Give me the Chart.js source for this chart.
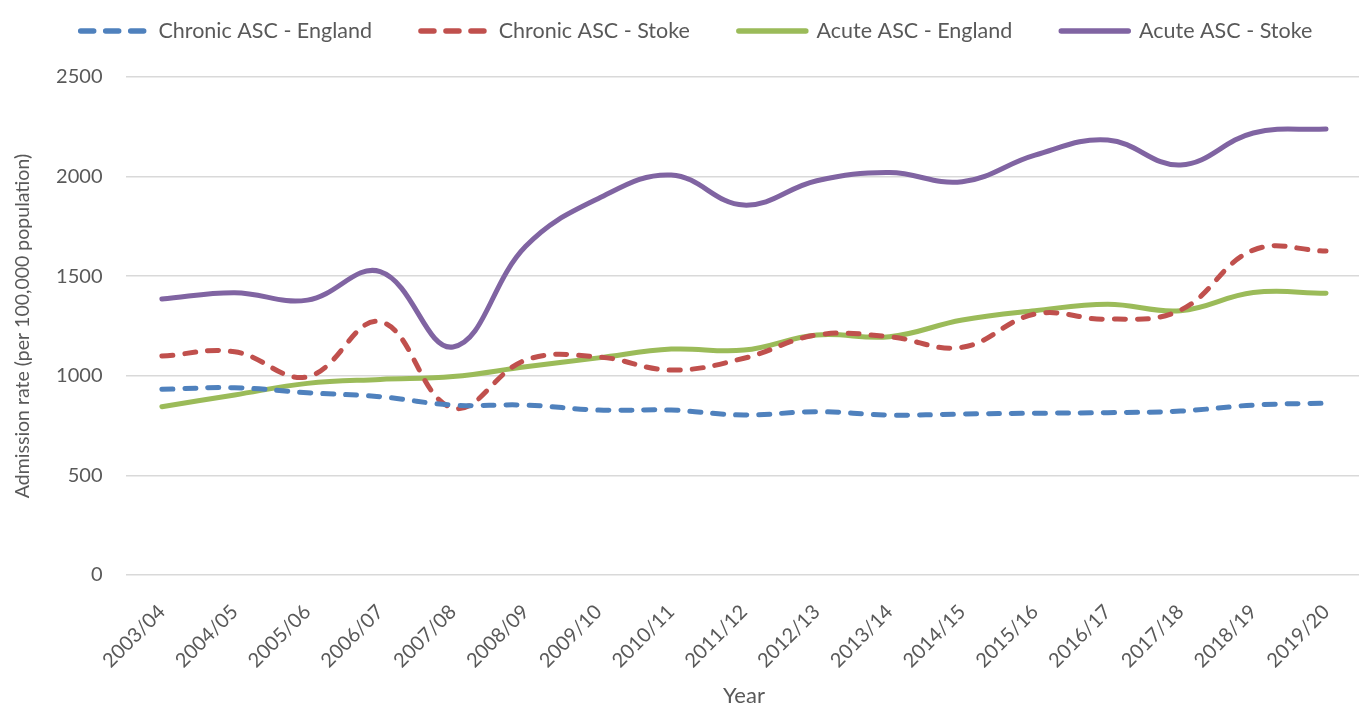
<!DOCTYPE html>
<html>
<head>
<meta charset="utf-8">
<script src="https://cdn.jsdelivr.net/npm/chart.js@4/dist/chart.umd.min.js"></script>
<style>
html, body { margin: 0; padding: 0; overflow: hidden; background: #ffffff; }
#wrap { width: 1368px; height: 707px; }
</style>
</head>
<body>
<div id="wrap"><canvas id="c" width="1368" height="707"></canvas></div>
<script>
const categories = ['2003/04','2004/05','2005/06','2006/07','2007/08','2008/09','2009/10','2010/11','2011/12','2012/13','2013/14','2014/15','2015/16','2016/17','2017/18','2018/19','2019/20'];
const chronicEngland = [932, 940, 915, 895, 853, 853, 828, 828, 803, 820, 803, 808, 812, 815, 823, 853, 863];
const chronicStoke   = [1099, 1121, 995, 1272, 838, 1079, 1095, 1029, 1088, 1205, 1196, 1143, 1310, 1284, 1330, 1631, 1626];
const acuteEngland   = [845, 904, 962, 982, 996, 1045, 1090, 1134, 1129, 1205, 1196, 1280, 1327, 1359, 1327, 1418, 1414];
const acuteStoke     = [1385, 1417, 1380, 1523, 1145, 1650, 1890, 2008, 1857, 1979, 2020, 1974, 2108, 2184, 2058, 2219, 2239];
const seriesNames = ['Chronic ASC - England', 'Chronic ASC - Stoke', 'Acute ASC - England', 'Acute ASC - Stoke'];
const yTicks = [0, 500, 1000, 1500, 2000, 2500];

const FONT = 'Lato, "Open Sans", sans-serif';
const TEXT = '#595959';
const LEGEND_P = 49;
const LEGEND_FS = 21.5;
const TOP = 77;
const PAD_TOP = 31 - LEGEND_P - LEGEND_FS / 2;

const legendFix = {
  id: 'legendFix',
  beforeUpdate(chart) {
    const lg = chart.legend;
    if (lg && !lg._patched) {
      const f = lg.fit.bind(lg);
      lg.fit = function () { f(); this.height = TOP - PAD_TOP; };
      lg._patched = true;
    }
  }
};

function ds(label, data, color, dashed) {
  return {
    label, data,
    borderColor: color, backgroundColor: color,
    borderWidth: 5,
    borderDash: dashed ? [11, 12] : [],
    borderCapStyle: 'round',
    borderJoinStyle: 'round',
    tension: 0.4,
    pointRadius: 0, pointHoverRadius: 0,
    fill: false
  };
}

new Chart(document.getElementById('c'), {
  type: 'line',
  data: {
    labels: categories,
    datasets: [
      ds(seriesNames[0], chronicEngland, '#4F81BD', true),
      ds(seriesNames[1], chronicStoke, '#C0504D', true),
      ds(seriesNames[2], acuteEngland, '#9BBB59', false),
      ds(seriesNames[3], acuteStoke, '#8064A2', false)
    ]
  },
  options: {
    responsive: false,
    animation: false,
    devicePixelRatio: 1,
    layout: { padding: { top: PAD_TOP, left: 25, right: 0, bottom: 0 } },
    plugins: {
      legend: {
        position: 'top',
        labels: {
          usePointStyle: true,
          pointStyle: 'line',
          pointStyleWidth: 67,
          padding: LEGEND_P,
          color: TEXT,
          font: { family: FONT, size: LEGEND_FS },
          generateLabels(chart) {
            return chart.data.datasets.map((d, i) => ({
              text: d.label,
              datasetIndex: i,
              fillStyle: d.borderColor,
              strokeStyle: d.borderColor,
              fontColor: TEXT,
              lineWidth: 5.5,
              lineDash: d.borderDash.length ? [13, 12] : [],
              lineDashOffset: 0,
              lineCap: 'round',
              lineJoin: 'round',
              pointStyle: 'line',
              rotation: 0,
              hidden: false
            }));
          }
        }
      },
      tooltip: { enabled: false }
    },
    scales: {
      x: {
        type: 'category',
        offset: true,
        grid: { display: false, drawTicks: false },
        border: { display: false },
        ticks: {
          autoSkip: false,
          minRotation: 45, maxRotation: 45,
          padding: 25,
          color: TEXT,
          font: { family: FONT, size: 20 }
        },
        title: {
          display: true, text: 'Year', color: TEXT,
          font: { family: FONT, size: 22 },
          padding: { top: 0, bottom: -2 }
        },
        afterFit(s) { s.height = 707 - 575; }
      },
      y: {
        min: 0, max: 2500,
        grid: { color: '#d9d9d9', lineWidth: 1.5, drawTicks: false },
        border: { display: false },
        afterBuildTicks(s) { s.ticks = yTicks.map(v => ({ value: v })); },
        ticks: {
          padding: 23,
          color: TEXT,
          font: { family: FONT, size: 20 },
          callback: (v) => String(v)
        },
        title: {
          display: true, text: 'Admission rate (per 100,000 population)', color: TEXT,
          font: { family: FONT, size: 19.5 },
          padding: { top: -14, bottom: 0 }
        },
        afterFit(s) { s.width = 100.5; }
      }
    }
  },
  plugins: [legendFix]
});
</script>
</body>
</html>
